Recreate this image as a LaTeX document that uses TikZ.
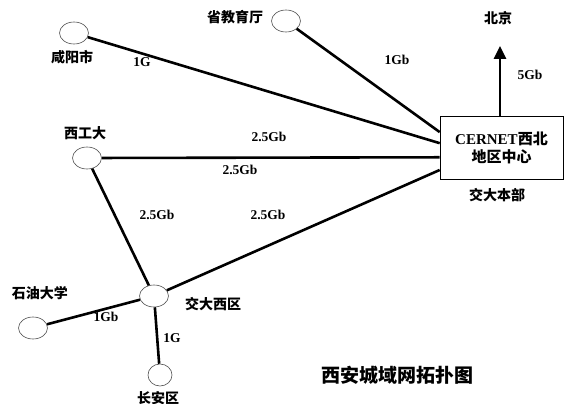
\documentclass[tikz,border=0pt]{standalone}
\usepackage{fontspec}
\setmainfont{Liberation Serif}
\newfontfamily\cjk{Noto Sans CJK SC}
\usetikzlibrary{shapes.geometric,arrows.meta}

\begin{document}
\begin{tikzpicture}[x=1pt,y=-1pt]
  \tikzstyle{site}=[draw=black!70, ellipse, line width=0.6pt, minimum width=29pt, minimum height=22pt, inner sep=0pt]
  \tikzstyle{link}=[line width=2.6pt]
  \tikzstyle{cn}=[font=\cjk\bfseries\fontsize{14}{16}\selectfont, inner sep=0pt]
  \tikzstyle{bw}=[font=\bfseries\fontsize{13.5}{15}\selectfont, inner sep=0pt]
  \useasboundingbox (0,0) rectangle (565,404);
  % sites
  \node [site] (xianyang) at (74,33) {};
  \node [cn] at (72,57) {咸阳市};
  \node [site] (jiaoyuting) at (286,21) {};
  \node [cn] at (235,17) {省教育厅};
  \node [site] (xigongda) at (87,158) {};
  \node [cn] at (85,133) {西工大};
  \node [site] (xiqu) at (154,296) {};
  \node [cn] at (213,304) {交大西区};
  \node [site] (shiyou) at (33,328) {};
  \node [cn] at (40,293) {石油大学};
  \node [site, minimum width=24pt] (changan) at (160,375) {};
  \node [cn] at (158,398) {长安区};
  % centre
  \node [draw, line width=0.6pt, minimum width=123pt, minimum height=63pt, align=center,
         font=\cjk\bfseries\fontsize{15}{18}\selectfont] (cernet) at (501.5,147.5)
         {{\rmfamily\bfseries CERNET}西北\\地区中心};
  \node [cn] at (497,195) {交大本部};
  \node [cn] (beijing) at (498,18) {北京};
  \coordinate (bjtip) at (500,46);
  % links
  \draw [link] (jiaoyuting) -- (cernet.166);
  \draw [link] (xianyang) -- (cernet.176);
  \draw [link] (xigongda) -- (cernet.189);
  \draw [link] (xiqu) -- (cernet.200);
  \draw [link] (xigongda) -- (xiqu);
  \draw [link] (shiyou) -- (xiqu);
  \draw [link] (changan) -- (xiqu);
  \draw [link, -{Triangle[width=12pt,length=13pt]}] (cernet.north -| bjtip) -- (bjtip);
  % bandwidths
  \node [bw] at (142,62) {1G};
  \node [bw] at (397,60) {1Gb};
  \node [bw] at (530,75) {5Gb};
  \node [bw] at (269,137) {2.5Gb};
  \node [bw] at (240,170) {2.5Gb};
  \node [bw] at (157,215) {2.5Gb};
  \node [bw] at (268,215) {2.5Gb};
  \node [bw] at (106,317) {1Gb};
  \node [bw] at (172,338) {1G};
  % title
  \node [cn, font=\cjk\bfseries\fontsize{19}{22}\selectfont] at (397,375) {西安城域网拓扑图};
\end{tikzpicture}
\end{document}
